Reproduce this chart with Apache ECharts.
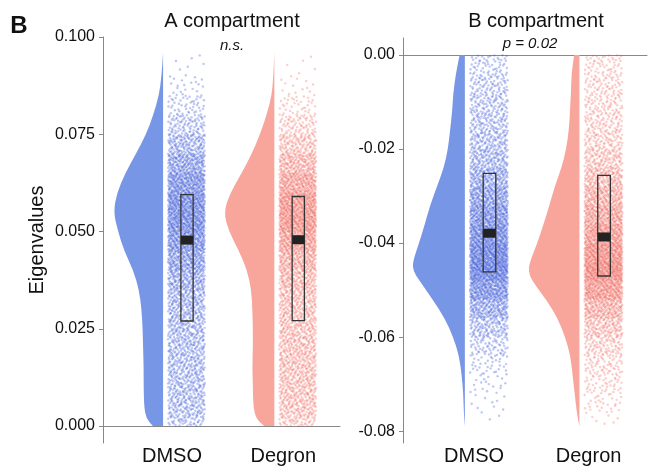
<!DOCTYPE html>
<html>
<head>
<meta charset="utf-8">
<script src="https://cdn.jsdelivr.net/npm/echarts@6/dist/echarts.min.js"></script>
<style>
  html, body { margin: 0; padding: 0; background: #fff; }
  #chart { width: 648px; height: 466px; }
</style>
</head>
<body>
<div id="chart"></div>
<script>
const categories = ["DMSO", "Degron"];

// A compartment: violin levels and relative density
const aLevels = [0.096, 0.09, 0.085, 0.08, 0.075, 0.07, 0.065, 0.06, 0.055, 0.05, 0.045,
    0.04, 0.035, 0.03, 0.025, 0.02, 0.015, 0.01, 0.005, 0.002, 0];
const aDmsoDensity = [0, 0.03, 0.08, 0.19, 0.33, 0.53, 0.74, 0.9, 0.97, 0.88, 0.76,
    0.58, 0.47, 0.42, 0.4, 0.39, 0.38, 0.38, 0.37, 0.33, 0.2];
const aDegronDensity = [0, 0.02, 0.05, 0.15, 0.28, 0.44, 0.64, 0.86, 0.99, 0.89, 0.69,
    0.53, 0.45, 0.43, 0.42, 0.42, 0.43, 0.42, 0.41, 0.36, 0.2];
const aQ1 = [0.0270, 0.0271];
const aMedian = [0.0478, 0.0479];
const aQ3 = [0.0595, 0.0590];
const aTicks = [0, 0.025, 0.05, 0.075, 0.1];

// B compartment
const bLevels = [0, -0.004, -0.008, -0.012, -0.016, -0.02, -0.024, -0.028, -0.032, -0.036, -0.04,
    -0.044, -0.046, -0.048, -0.052, -0.056, -0.06, -0.064, -0.068, -0.072, -0.076, -0.079];
const bDmsoDensity = [0.1, 0.17, 0.22, 0.24, 0.28, 0.32, 0.4, 0.53, 0.66, 0.76, 0.87,
    0.99, 0.98, 0.86, 0.61, 0.38, 0.22, 0.11, 0.06, 0.03, 0.02, 0];
const bDegronDensity = [0.1, 0.15, 0.16, 0.18, 0.2, 0.25, 0.34, 0.47, 0.57, 0.68, 0.8,
    0.94, 0.97, 0.9, 0.63, 0.41, 0.27, 0.17, 0.13, 0.09, 0.05, 0];
const bQ1 = [-0.0461, -0.0470];
const bMedian = [-0.0379, -0.0387];
const bQ3 = [-0.0252, -0.0256];
const bTicks = [0, -0.02, -0.04, -0.06, -0.08];

const FONT = "'Liberation Sans', Arial, sans-serif";
const violinColors = ["#7896e6", "#f8a59c"];
const pointColors = ["rgba(50,80,215,0.4)", "rgba(236,80,70,0.34)"];
const violinHalf = 0.46;   // in x units
const nPoints = 3200;

const halton = (i, b) => {
    let f = 1, r = 0;
    while (i > 0) {
        f /= b;
        r += f * (i % b);
        i = Math.floor(i / b);
    }
    return r;
};

// spread points along the density profile (Halton sequence for the jitter)
const jitterPoints = (levels, dens, k, n) => {
    const cum = [0];
    for (let i = 1; i < levels.length; i++) {
        cum.push(cum[i - 1] + (dens[i - 1] + dens[i]) / 2 * Math.abs(levels[i] - levels[i - 1]));
    }
    const total = cum[cum.length - 1];
    const pts = [];
    for (let i = 0; i < n; i++) {
        const p = halton(i + 1, 2) * total;
        const u = halton(i + 1, 3);
        let j = 0;
        while (j < cum.length - 2 && cum[j + 1] < p) j++;
        const t = (p - cum[j]) / (cum[j + 1] - cum[j] || 1);
        pts.push([k + 0.045 + 0.33 * u, levels[j] + t * (levels[j + 1] - levels[j])]);
    }
    return pts;
};

const violinSeries = (grid, levels, dens, k, color) => ({
    type: "custom",
    xAxisIndex: grid, yAxisIndex: grid,
    silent: true,
    data: [[k, levels[0]]],
    renderItem: (params, api) => {
        const pts = levels.map((lv, i) => api.coord([k - dens[i] * violinHalf, lv]));
        const top = api.coord([k, levels[0]]);
        const bot = api.coord([k, levels[levels.length - 1]]);
        const n = pts.length;
        // smooth outline: quadratic curves through midpoints
        let d = "M" + top[0] + "," + top[1] + "L" + pts[0][0] + "," + pts[0][1];
        d += "L" + ((pts[0][0] + pts[1][0]) / 2) + "," + ((pts[0][1] + pts[1][1]) / 2);
        for (let i = 1; i < n - 1; i++) {
            const mx = (pts[i][0] + pts[i + 1][0]) / 2;
            const my = (pts[i][1] + pts[i + 1][1]) / 2;
            d += "Q" + pts[i][0] + "," + pts[i][1] + "," + mx + "," + my;
        }
        d += "L" + pts[n - 1][0] + "," + pts[n - 1][1] + "L" + bot[0] + "," + bot[1] + "Z";
        return { type: "path", shape: { pathData: d }, style: { fill: color } };
    }
});

const boxSeries = (grid, q1, med, q3) => ({
    type: "custom",
    xAxisIndex: grid, yAxisIndex: grid,
    silent: true,
    z: 5,
    data: categories.map((c, i) => [i + 1, q1[i], med[i], q3[i]]),
    renderItem: (params, api) => {
        const k = api.value(0);
        const top = api.coord([k + 0.16, api.value(3)]);
        const bot = api.coord([k + 0.27, api.value(1)]);
        const m = api.coord([k + 0.16, api.value(2)]);
        const w = bot[0] - top[0];
        return {
            type: "group",
            children: [
                { type: "rect", shape: { x: top[0], y: top[1], width: w, height: bot[1] - top[1] },
                  style: { fill: "none", stroke: "#333", lineWidth: 1.3 } },
                { type: "rect", shape: { x: top[0], y: m[1] - 4.5, width: w, height: 9 },
                  style: { fill: "#222" } }
            ]
        };
    }
});

const pointSeries = (grid, levels, dens, k, color) => ({
    type: "scatter",
    xAxisIndex: grid, yAxisIndex: grid,
    silent: true,
    progressive: 0,
    symbolSize: 2.4,
    itemStyle: { color: color },
    data: jitterPoints(levels, dens, k, nPoints)
});

const xAxisFor = (grid) => ({
    gridIndex: grid,
    type: "value",
    min: 0.46, max: 2.59,
    axisLine: { show: true, lineStyle: { color: "#888", width: 1 } },
    axisTick: { show: false },
    splitLine: { show: false },
    axisLabel: {
        customValues: [1.08, 2.08],
        formatter: v => categories[Math.round(v - 1.08)],
        fontSize: 20, color: "#111", margin: 3, fontFamily: FONT
    }
});

const chart = echarts.init(document.getElementById("chart"));
chart.setOption({
    animation: false,
    textStyle: { fontFamily: FONT },
    grid: [
        { left: 103, top: 37, width: 237, height: 408 },
        { left: 403, top: 38, width: 244, height: 407 }
    ],
    xAxis: [xAxisFor(0), xAxisFor(1)],
    yAxis: [
        {
            gridIndex: 0, type: "value", min: -0.00435, max: 0.1,
            name: "Eigenvalues", nameLocation: "middle", nameGap: 56,
            nameTextStyle: { fontSize: 20, color: "#111", fontFamily: FONT },
            axisLine: { show: true, lineStyle: { color: "#888" } },
            axisTick: { show: true, customValues: aTicks, length: 4, lineStyle: { color: "#888" } },
            axisLabel: { customValues: aTicks, formatter: v => v.toFixed(3), fontSize: 16, color: "#111", margin: 8 },
            splitLine: { show: false }
        },
        {
            gridIndex: 1, type: "value", min: -0.0825, max: 0.0036,
            axisLine: { show: true, lineStyle: { color: "#888" } },
            axisTick: { show: true, customValues: bTicks, length: 4, lineStyle: { color: "#888" } },
            axisLabel: { customValues: bTicks, formatter: v => v.toFixed(2), fontSize: 16, color: "#111", margin: 8 },
            splitLine: { show: false }
        }
    ],
    graphic: [
        { type: "text", x: 19, y: 26, style: { text: "B", font: "bold 24px " + FONT, fill: "#111", textAlign: "center", textVerticalAlign: "middle" } },
        { type: "text", x: 232, y: 21, style: { text: "A compartment", font: "20px " + FONT, fill: "#111", textAlign: "center", textVerticalAlign: "middle" } },
        { type: "text", x: 232, y: 46, style: { text: "n.s.", font: "italic 15px " + FONT, fill: "#111", textAlign: "center", textVerticalAlign: "middle" } },
        { type: "text", x: 536, y: 21, style: { text: "B compartment", font: "20px " + FONT, fill: "#111", textAlign: "center", textVerticalAlign: "middle" } },
        { type: "text", x: 530, y: 44, style: { text: "p = 0.02", font: "italic 15px " + FONT, fill: "#111", textAlign: "center", textVerticalAlign: "middle" } }
    ],
    series: [
        violinSeries(0, aLevels, aDmsoDensity, 1, violinColors[0]),
        violinSeries(0, aLevels, aDegronDensity, 2, violinColors[1]),
        violinSeries(1, bLevels, bDmsoDensity, 1, violinColors[0]),
        violinSeries(1, bLevels, bDegronDensity, 2, violinColors[1]),
        pointSeries(0, aLevels, aDmsoDensity, 1, pointColors[0]),
        pointSeries(0, aLevels, aDegronDensity, 2, pointColors[1]),
        pointSeries(1, bLevels, bDmsoDensity, 1, pointColors[0]),
        pointSeries(1, bLevels, bDegronDensity, 2, pointColors[1]),
        boxSeries(0, aQ1, aMedian, aQ3),
        boxSeries(1, bQ1, bMedian, bQ3)
    ]
});
</script>
</body>
</html>
